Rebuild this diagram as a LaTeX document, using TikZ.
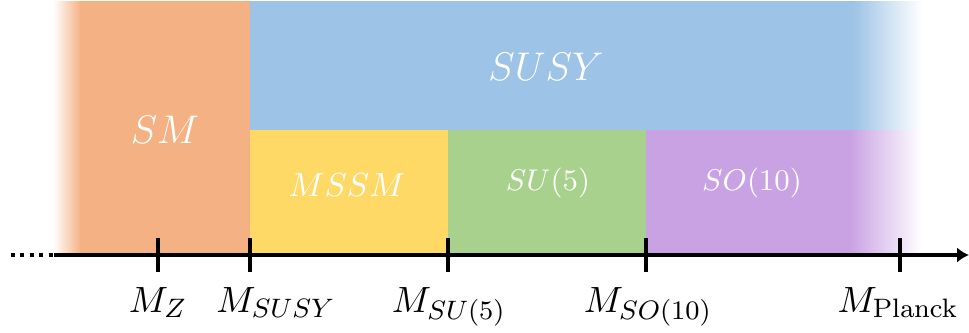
\documentclass[tikz,border=0pt]{standalone}
\usetikzlibrary{arrows.meta}

\definecolor{smorange}{HTML}{F4B183}
\definecolor{susyblue}{HTML}{9DC3E6}
\definecolor{mssmyellow}{HTML}{FED966}
\definecolor{sugreen}{HTML}{A9D18E}
\definecolor{sopurple}{HTML}{C9A2E3}

\begin{document}
\begin{tikzpicture}[x=0.3pt,y=-0.3pt,
  boxlabel/.style={text=white, inner sep=0pt},
  scalelabel/.style={anchor=base, inner sep=0pt, font=\fontsize{11}{13}\selectfont},
  axisline/.style={line width=1.2pt},
  tickmark/.style={line width=1.2pt}]
\useasboundingbox (0,0) rectangle (969,332);

% energy regions
\shade[left color=white, right color=smorange] (53,1) rectangle (81,255);
\fill[smorange] (80,1) rectangle (251,255);
\fill[susyblue] (250,1) rectangle (854,130);
\shade[left color=susyblue, right color=white] (853,1) rectangle (922,130);
\fill[mssmyellow] (250,130) rectangle (449,255);
\fill[sugreen] (448,130) rectangle (647,255);
\fill[sopurple] (646,130) rectangle (851,255);
\shade[left color=sopurple, right color=white] (850,130) rectangle (922,255);

% region names
\node[boxlabel, font=\fontsize{12.5}{15}\selectfont] (sm) at (165,130) {$SM$};
\node[boxlabel, font=\fontsize{12.5}{15}\selectfont] (susy) at (546,67) {$SUSY$};
\node[boxlabel, font=\fontsize{10}{12}\selectfont] (mssm) at (347,185) {$MSSM$};
\node[boxlabel, font=\fontsize{9.5}{11}\selectfont] (su5) at (548,183) {$SU(5)$};
\node[boxlabel, font=\fontsize{9.5}{11}\selectfont] (so10) at (752,183) {$SO(10)$};

% energy axis
\coordinate (dots) at (11,255);
\coordinate (axstart) at (54,255);
\coordinate (axend) at (969,255);
\draw[axisline, dash pattern=on 1.2pt off 1.65pt] (dots) -- (axstart);
\draw[axisline, -{Latex[length=3.6pt,width=4.6pt]}] (axstart) -- (axend);

% scale marks
\foreach \name/\x in {mz/158, msusy/250, msu/448, mso/646, mpl/900}
  \draw[tickmark] (\x,238) coordinate (\name top) -- (\x,272) coordinate (\name bot);

\node[scalelabel] (lz) at (158,312) {$M_Z$};
\node[scalelabel] (lsusy) at (276,312) {$M_{SUSY}$};
\node[scalelabel] (lsu) at (449,312) {$M_{SU(5)}$};
\node[scalelabel] (lso) at (648,312) {$M_{SO(10)}$};
\node[scalelabel] (lpl) at (898,312) {$M_{\mathrm{Planck}}$};
\end{tikzpicture}
\end{document}
